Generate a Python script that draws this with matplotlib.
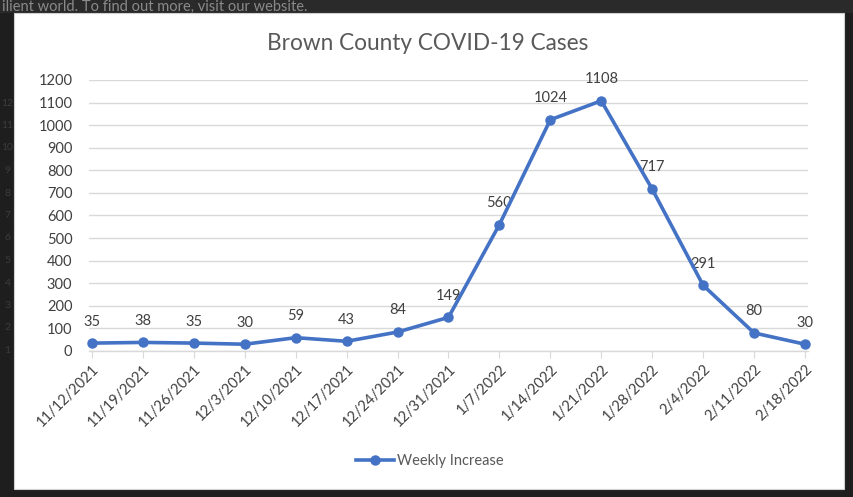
import matplotlib
matplotlib.use("Agg")
import matplotlib.pyplot as plt
from matplotlib.patches import Rectangle

dates = ["11/12/2021", "11/19/2021", "11/26/2021", "12/3/2021", "12/10/2021",
         "12/17/2021", "12/24/2021", "12/31/2021", "1/7/2022", "1/14/2022",
         "1/21/2022", "1/28/2022", "2/4/2022", "2/11/2022", "2/18/2022"]
weekly_increase = [35, 38, 35, 30, 59, 43, 84, 149, 560, 1024, 1108, 717, 291, 80, 30]
y_ticks = list(range(0, 1201, 100))
ghost_labels = ["12", "11", "10", "9", "8", "7", "6", "5", "4", "3", "2", "1"]

W, H = 854, 497
plt.rcParams['font.family'] = ['Lato', 'DejaVu Sans']
fig = plt.figure(figsize=(W / 100, H / 100), dpi=100)
fig.patch.set_facecolor("#1e1e1e")

# background artifacts from screenshot
fig.patches.append(Rectangle((0, 1 - 13 / H), 1, 13 / H, transform=fig.transFigure,
                             facecolor="#2a2a2a", edgecolor="none", zorder=0))
fig.text(2 / W, 1 - 7 / H, "ilient world. To find out more, visit our website.",
         color="#8a8a8a", fontsize=10.5, va="center", ha="left", zorder=1)
for i, t in enumerate(ghost_labels):
    fig.text(7.5 / W, 1 - (103 + i * 22.5) / H, t, color="#3c3c3c", fontsize=7.5,
             va="center", ha="center", zorder=1)
# white chart panel
fig.patches.append(Rectangle((14 / W, 1 - 489 / H), (844 - 14) / W, (489 - 13) / H,
                             transform=fig.transFigure, facecolor="white",
                             edgecolor="#d0d0d0", linewidth=0.8, zorder=2))

left, right = 89 / W, 808 / W
bottom, top = 1 - 351 / H, 1 - 80 / H
ax = fig.add_axes([left, bottom, right - left, top - bottom], zorder=3)
ax.set_facecolor("none")

x = list(range(len(dates)))
line, = ax.plot(x, weekly_increase, color="#4472C4", linewidth=2.6, marker="o",
                markersize=6.5, zorder=5, clip_on=False, label="Weekly Increase")

for xi, v in zip(x, weekly_increase):
    ax.annotate(str(v), (xi, v), xytext=(0, 10.5), textcoords="offset points",
                ha="center", va="bottom", fontsize=10.5, color="#404040")

ax.set_xlim(-0.06, 14.06)
ax.set_ylim(0, 1200)
ax.set_yticks(y_ticks)
ax.set_yticklabels([str(t) for t in y_ticks], fontsize=10.5, color="#404040")
ax.set_xticks(x)
ax.set_xticklabels(dates, rotation=45, ha="right", rotation_mode="anchor",
                   fontsize=10.5, color="#404040")
ax.tick_params(axis="y", length=0, pad=12)
ax.tick_params(axis="x", length=5, color="#d9d9d9", pad=3)
ax.grid(axis="y", color="#d9d9d9", linewidth=1)
ax.set_axisbelow(True)
for s in ["top", "right", "left"]:
    ax.spines[s].set_visible(False)
ax.spines["bottom"].set_color("#d9d9d9")
ax.spines["bottom"].set_linewidth(1)

fig.text(428 / W, 1 - 44 / H, "Brown County COVID-19 Cases", ha="center", va="center",
         fontsize=16.3, color="#595959", zorder=4)

leg = fig.legend(handles=[line], loc="center", bbox_to_anchor=(430 / W, 1 - 461 / H),
                 frameon=False, fontsize=10.5, handlelength=2.6, handletextpad=0.2)
for t in leg.get_texts():
    t.set_color("#595959")
leg.set_zorder(6)

fig.savefig("out.png", dpi=100, facecolor=fig.get_facecolor())
